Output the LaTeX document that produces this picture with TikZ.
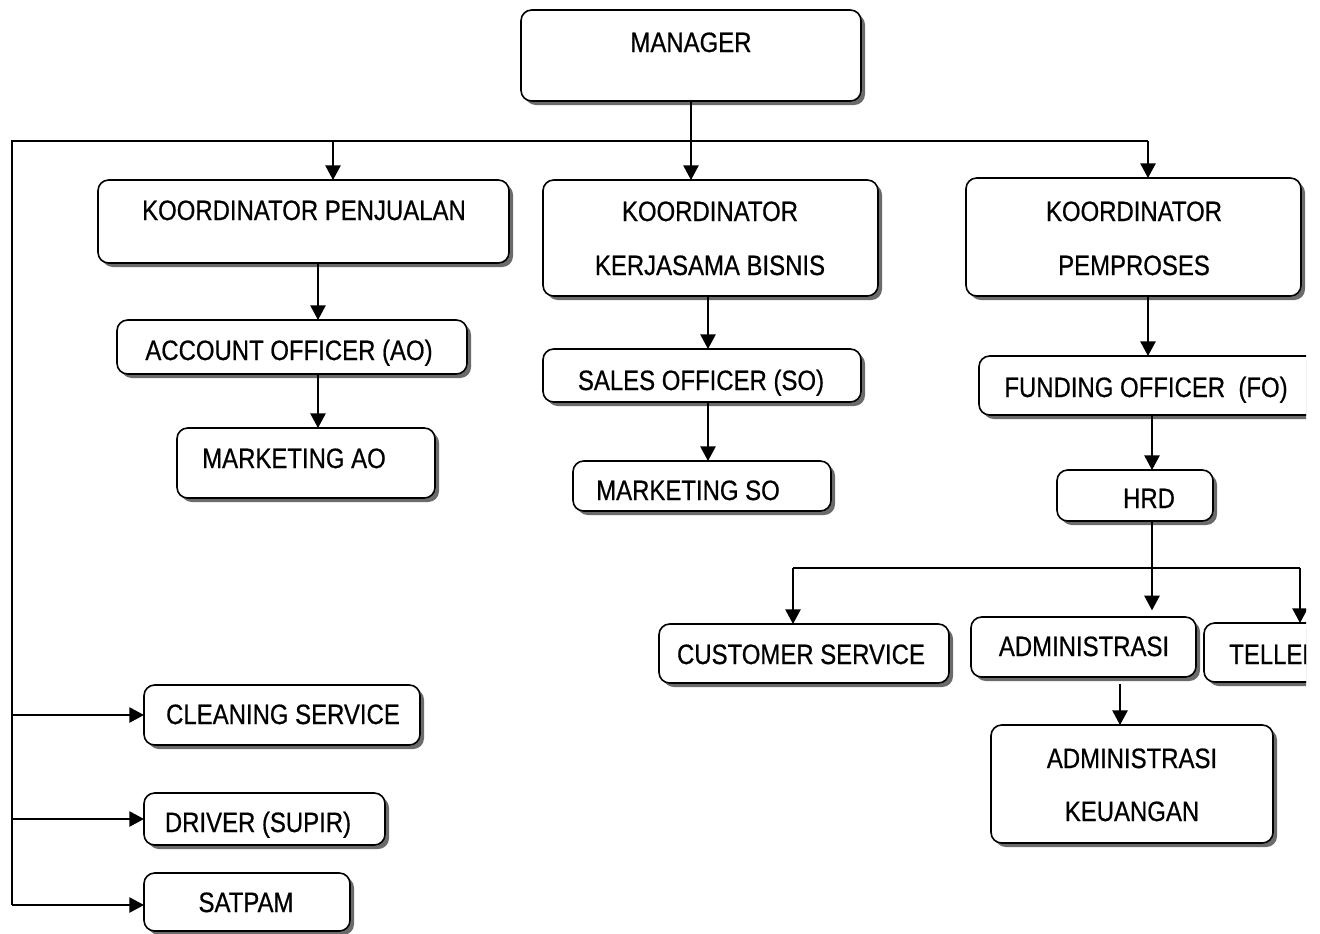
\documentclass[tikz,border=0pt]{standalone}
\usepackage{fontspec}
\setmainfont{Liberation Sans}[FakeStretch=0.855,FakeBold=0.6]
\usetikzlibrary{arrows.meta,shadows,calc}
\tikzset{
  bx/.style n args={4}{draw=black, line width=1.2pt, rounded corners=8pt, fill=white,
    drop shadow={shadow xshift=3pt, shadow yshift=-3pt, fill=black!58, opacity=1},
    inner sep=0pt, outer sep=0pt,
    minimum width={(#3-#1)*0.75pt}, minimum height={(#4-#2)*0.75pt},
    at={({(#1+#3)/2},{(#2+#4)/2})}},
  txt/.style={font=\fontsize{21pt}{25pt}\selectfont, inner sep=0pt, text height=15pt, text depth=0pt},
  ln/.style={line width=1.1pt},
  arr/.style={line width=1.1pt, -{Triangle[length=11pt,width=11.5pt]}}
}
\begin{document}
\begin{tikzpicture}[x=0.75pt,y=-0.75pt]
\useasboundingbox (0,0) rectangle (1320,933);
\begin{scope}
\clip (0,0) rectangle (1306,933);
% boxes
\node[bx={521}{10}{861}{101}] (mgr) {};
\node[bx={98}{180}{509}{263}] (kp) {};
\node[bx={543}{180}{878}{296}] (kkb) {};
\node[bx={966}{178}{1301}{296}] (kpem) {};
\node[bx={117}{320}{467}{374}] (ao) {};
\node[bx={177}{428}{435}{498}] (mao) {};
\node[bx={543}{349}{861}{402}] (so) {};
\node[bx={573}{461}{831}{511}] (mso) {};
\node[bx={979}{356}{1340}{415}] (fo) {};
\node[bx={1057}{470}{1213}{521}] (hrd) {};
\node[bx={659}{624}{949}{683}] (csv) {};
\node[bx={971}{617}{1196}{677}] (adm) {};
\node[bx={1204}{623}{1420}{682}] (tel) {};
\node[bx={991}{725}{1273}{843}] (admk) {};
\node[bx={144}{685}{420}{745}] (cln) {};
\node[bx={144}{793}{385}{845}] (drv) {};
\node[bx={144}{873}{350}{931}] (sat) {};
% texts
\node[txt] (tmgr) at (691,42) {MANAGER};
\node[txt] (tkp) at (304,210) {KOORDINATOR PENJUALAN};
\node[txt] (tkkb1) at (710,211) {KOORDINATOR};
\node[txt] (tkkb2) at (710,265) {KERJASAMA BISNIS};
\node[txt] (tkpem1) at (1134,211) {KOORDINATOR};
\node[txt] (tkpem2) at (1134,265) {PEMPROSES};
\node[txt] (tao) at (289,350) {ACCOUNT OFFICER (AO)};
\node[txt] (tmao) at (294,458) {MARKETING AO};
\node[txt] (tso) at (701,380) {SALES OFFICER (SO)};
\node[txt] (tmso) at (688,490) {MARKETING SO};
\node[txt] (tfo) at (1146,387) {FUNDING OFFICER\ \ (FO)};
\node[txt] (thrd) at (1149,498) {HRD};
\node[txt] (tcsv) at (801,654) {CUSTOMER SERVICE};
\node[txt] (tadm) at (1084,646) {ADMINISTRASI};
\node[txt,anchor=west] (ttel) at (1229,654) {TELLER};
\node[txt] (tadmk1) at (1132,758) {ADMINISTRASI};
\node[txt] (tadmk2) at (1132,811) {KEUANGAN};
\node[txt] (tcln) at (283,714) {CLEANING SERVICE};
\node[txt] (tdrv) at (258,822) {DRIVER (SUPIR)};
\node[txt] (tsat) at (246,902) {SATPAM};
% coordinates
\coordinate (busL) at (12,141);
\coordinate (bKP) at (333,141);
\coordinate (bKPem) at (1148,141);
\coordinate (lEnd) at (12,905);
\coordinate (aKP) at (318,0);
\coordinate (aKKB) at (708,0);
\coordinate (aHRD) at (1152,0);
\coordinate (brL) at (793,568);
\coordinate (brR) at (1300,568);
\coordinate (aK) at (1120,0);
% connectors
\draw[arr] (mgr.south) -- (mgr.south |- kkb.north);
\draw[ln] (bKPem) -- (busL) -- (lEnd);
\draw[arr] (bKP) -- (bKP |- kp.north);
\draw[arr] (bKPem) -- (bKPem |- kpem.north);
\draw[arr] (busL |- cln.west) -- (cln.west);
\draw[arr] (busL |- drv.west) -- (drv.west);
\draw[arr] (lEnd) -- (lEnd -| sat.west);
\draw[arr] (aKP |- kp.south) -- (aKP |- ao.north);
\draw[arr] (aKP |- ao.south) -- (aKP |- mao.north);
\draw[arr] (aKKB |- kkb.south) -- (aKKB |- so.north);
\draw[arr] (aKKB |- so.south) -- (aKKB |- mso.north);
\draw[arr] (bKPem |- kpem.south) -- (bKPem |- fo.north);
\draw[arr] (aHRD |- fo.south) -- (aHRD |- hrd.north);
\draw[arr] (aHRD |- hrd.south) -- ([yshift=5pt]aHRD |- adm.north);
\draw[ln] (brL) -- (brR);
\draw[arr] (brL) -- (brL |- csv.north);
\draw[arr] (brR) -- (brR |- tel.north);
\draw[arr] ([yshift=-5pt]aK |- adm.south) -- (aK |- admk.north);
\end{scope}
\end{tikzpicture}
\end{document}
